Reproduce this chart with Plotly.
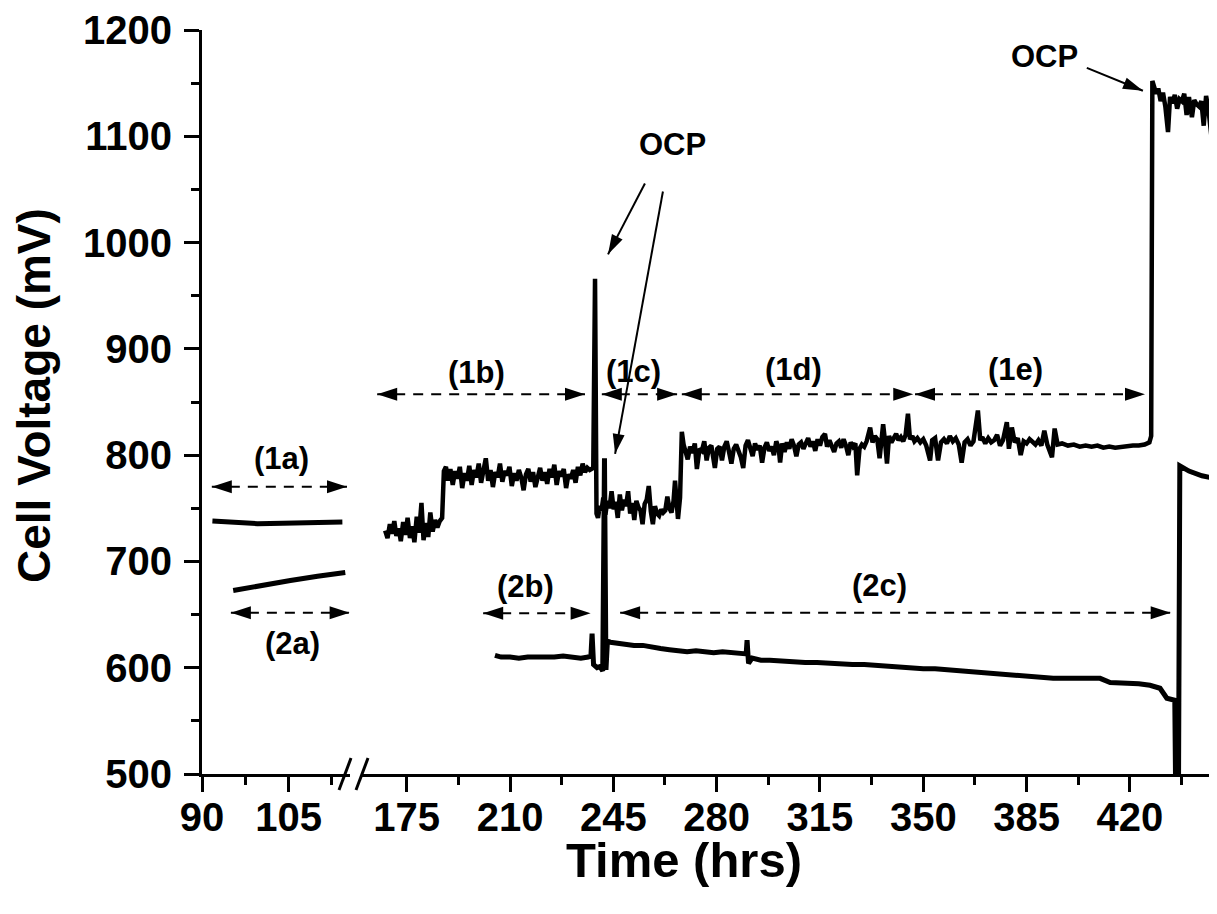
import math
import plotly.graph_objects as go

# ---------------- data ----------------
# broken time axis: left panel 90-115 h, right panel 160-450 h
s1_left_t = [91.8, 95.0, 99.6, 104.0, 108.0, 112.0, 114.3]
s1_left_v = [738, 737, 735.5, 736, 736.5, 737, 737]

s2_left_t = [95.4, 100.0, 105.3, 110.0, 114.8]
s2_left_v = [672.7, 677.5, 682, 686, 689.5]

s1_t = [167.7, 168.5, 169.3, 170.0, 170.8, 171.5, 172.3, 173.0, 173.8, 174.6, 175.3, 176.1,
        176.9, 177.6, 178.4, 179.2, 180.0, 180.7, 181.5, 182.3, 183.0, 183.8, 184.6, 185.4,
        186.2, 187.0, 187.6, 188.3,
        189.0, 189.8, 190.6, 191.4, 192.2, 193.0, 193.8, 194.6, 195.4, 196.2, 197.0, 197.8,
        198.6, 199.4, 200.2, 201.0, 201.8, 202.6, 203.4, 204.2, 205.0, 205.8, 206.6, 207.4,
        208.2, 209.0, 209.8, 210.6, 211.4, 212.2, 213.0, 213.8, 214.6, 215.4, 216.2, 217.0,
        217.8, 218.6, 219.4, 220.2, 221.0, 221.8, 222.6, 223.4, 224.2, 225.0, 225.8, 226.6,
        227.4, 228.2, 229.0, 229.8, 230.6, 231.4, 232.2, 233.0, 233.8, 234.6, 235.4, 236.2,
        237.0, 238.2, 238.8, 239.3,
        239.8, 240.4, 241.0, 241.6, 242.3, 243.0, 243.7, 244.4, 245.1, 245.8, 246.5, 247.2,
        247.9, 248.6, 249.3, 250.0, 250.7, 251.4, 252.1, 252.8, 253.5, 254.2, 254.9, 255.6,
        256.3, 257.0, 257.7, 258.4, 259.1, 259.8, 260.5, 261.2, 261.9, 262.6, 263.3, 264.0,
        264.7, 265.4, 265.9, 266.9, 267.6, 268.2, 268.8,
        269.4, 270.2, 271.0, 271.8, 272.6, 273.3, 274.2, 275.0, 275.8, 276.6, 277.4, 278.2,
        279.4, 280.2, 281.0, 281.8, 282.6, 283.4, 284.2, 285.0, 285.8, 286.6, 287.4, 288.2,
        289.0, 289.8, 290.6, 291.4, 292.2, 293.0, 293.8, 294.6, 295.4, 296.2, 297.0, 297.8,
        298.6, 299.4, 300.2, 301.0, 301.5, 302.2, 303.0, 303.8, 304.6, 305.4, 306.2, 307.0,
        307.8, 308.6, 309.4, 310.2, 311.0, 311.8, 312.6, 313.4, 314.2, 315.0, 315.8, 316.7,
        317.4, 318.2, 319.0, 319.8, 320.6, 321.4, 322.2, 323.0, 323.8, 324.6, 325.4, 326.2,
        327.0, 327.6, 328.4, 329.2, 330.0, 330.8, 332.0, 332.8, 333.6, 334.4, 335.2, 336.4,
        337.0, 337.7, 338.4, 339.2, 340.0, 340.8, 341.6, 342.4, 343.2, 344.0, 344.8, 345.5,
        346.3, 347.0,
        348.0, 349.0, 350.0, 351.0, 352.3, 353.0, 354.0, 355.0, 356.0, 357.0, 358.0, 359.0,
        360.0, 361.0, 362.0, 363.0, 364.0, 365.0, 366.0, 367.0, 368.5, 369.3, 370.0, 371.0,
        372.0, 373.0, 374.0, 375.0, 376.0, 377.0, 378.3, 379.0, 380.0, 381.0, 382.0, 383.0,
        384.0, 385.0, 386.0, 387.0, 388.0, 389.0, 390.0, 391.0, 392.0, 393.6, 394.5, 395.5,
        397.0, 399.0, 401.0, 403.0, 405.0, 407.0, 409.0, 411.0, 413.0, 415.0, 417.0, 419.0,
        421.0, 423.0, 425.0, 426.6, 427.2,
        427.6, 428.2, 428.9, 429.6, 430.4, 431.2, 432.0, 432.9, 433.6, 434.4, 435.2, 436.0,
        436.8, 437.6, 438.4, 439.2, 440.0, 441.0, 441.8, 442.6, 443.4, 444.2, 445.0, 445.8,
        446.6, 447.8, 448.5, 449.2]
s1_v = [729, 722, 735, 726, 738, 724, 731, 719, 737, 725, 741, 722,
        733, 718, 742, 727, 755, 720, 736, 723, 746, 728, 739, 732,
        738, 741, 785, 789,
        776, 787, 772, 785, 778, 789, 769, 783, 776, 790, 772, 786,
        779, 792, 774, 788, 797, 776, 786, 770, 784, 779, 792, 775,
        785, 781, 789, 771, 783, 776, 786, 779, 767, 782, 787, 775,
        784, 770, 781, 788, 776, 784, 773, 787, 779, 791, 772, 785,
        780, 787, 769, 782, 778, 786, 774, 789, 781, 792, 784, 788,
        786, 788, 966, 745,
        741, 752, 748, 760, 744, 757, 750, 766, 749, 756, 741, 763,
        748, 758, 752, 766, 745, 755, 739, 757, 751, 748, 735, 754,
        758, 771, 747, 735, 752, 745, 743, 749, 746, 748, 761, 750,
        746, 757, 776, 740, 760, 822, 810,
        805, 796, 808, 802, 811, 787, 806, 804, 813, 795, 807, 809,
        788, 806, 808, 795, 808, 813, 803, 792, 806, 810, 804, 798,
        788, 809, 814, 806, 799, 811, 805, 809, 793, 807, 812, 804,
        808, 800, 813, 807, 793, 811, 803, 812, 806, 815, 809, 799,
        810, 812, 806, 811, 816, 808, 813, 804, 815, 809, 817, 820,
        808, 814, 809, 803, 811, 813, 807, 815, 809, 800, 812, 808,
        811, 781, 806, 810, 808, 813, 826, 812, 818, 815, 797, 829,
        814, 792, 818, 812, 816, 820, 814, 817, 813, 819, 839, 815,
        818, 813,
        816, 812, 815, 809, 795, 814, 816, 795, 812, 815, 811, 818,
        813, 816, 810, 793, 812, 815, 809, 813, 842, 814, 817, 811,
        816, 812, 814, 819, 809, 814, 831, 806, 826, 812, 816, 800,
        813, 811, 815, 812, 810, 814, 809, 823, 810, 798, 825, 810,
        811, 809, 810, 808, 809, 808, 809, 807, 808, 807, 808, 808,
        809, 809, 810, 812, 818,
        1152, 1146, 1140, 1145, 1133, 1141, 1128, 1104, 1137, 1131, 1139, 1126,
        1135, 1133, 1140, 1120, 1137, 1118, 1134, 1130, 1128, 1133, 1110, 1138,
        1125, 1095, 1135, 1158]

s2_t = [204.9, 207.0, 210.0, 213.0, 216.0, 219.0, 222.0, 225.0, 228.0, 231.0, 234.0, 236.5,
        237.4, 237.8, 238.3, 239.5, 240.5, 241.4, 242.0, 242.5, 243.0, 244.0, 246.0, 249.0,
        252.0, 255.0, 258.0, 261.0, 264.0, 267.0, 270.0, 273.0, 276.0, 279.0, 282.0, 285.0,
        288.0, 290.0, 290.3, 290.8, 292.0, 295.0, 298.0, 302.0, 306.0, 310.0, 314.0, 318.0,
        322.0, 326.0, 330.0, 334.0, 338.0, 342.0, 346.0, 350.0, 354.0, 358.0, 362.0, 366.0,
        370.0, 374.0, 378.0, 382.0, 386.0, 390.0, 394.0, 398.0, 402.0, 406.0, 409.9, 413.3,
        417.0, 420.0, 423.0, 426.8, 430.2, 432.5, 435.2, 435.6, 436.4, 436.9, 440.0, 444.4,
        449.5]
s2_v = [611.7, 610, 610, 609, 610, 610, 609, 610, 611, 610, 609, 610,
        611, 632, 603, 600, 601, 597, 797, 598, 625, 624, 623, 622,
        621, 621, 619, 618, 617, 616, 615, 616, 615, 614, 615, 614,
        613, 613, 626, 604, 609, 607, 607, 606, 606, 605, 605, 604,
        604, 603, 603, 602, 602, 601, 600, 599, 599, 598, 597, 596,
        595, 594, 593, 592, 591, 591, 590, 590, 590, 589, 590, 586,
        586, 585, 585, 583.5, 580.7, 571.3, 569.4, 450, 450, 790, 785, 780.6,
        777.7]

# annotation labels and their (time, voltage) anchors
seg_labels = ["(1a)", "(2a)", "(1b)", "(1c)", "(1d)", "(1e)", "(2b)", "(2c)"]
seg_label_t = [103.8, 105.6, 198.7, 251.7, 305.9, 381.1, 215.4, 335.3]
seg_label_v = [796.5, 622.9, 877.5, 879.0, 881.0, 881.0, 676.4, 677.3]
seg_axis = ["x", "x", "x2", "x2", "x2", "x2", "x2", "x2"]
# double arrows: (start time, end time, voltage)
seg_start = [91.7, 95.0, 165.0, 241.1, 268.2, 347.2, 200.9, 247.3]
seg_end = [115.1, 115.55, 235.4, 266.6, 346.6, 425.1, 237.3, 433.8]
seg_v = [770.2, 651.7, 857.2, 857.2, 857.2, 857.2, 651.3, 651.7]

ocp_text_t = [264.9, 391.2]
ocp_text_v = [1092.1, 1174.7]
ocp_from_t = [255.7, 261.8, 405.4]
ocp_from_v = [1055.5, 1048.0, 1164.4]
ocp_to_t = [243.2, 245.6, 424.4]
ocp_to_v = [988.9, 801.2, 1142.8]

# ---------------- geometry ----------------
# the page places the figure 8 px in from the top-left corner (default body margin)
OFF = 8
W_FIG, H_FIG = 1217 - OFF, 914 - OFF
L_REF, T_REF = 202, 28          # plot-area corner in window pixels
L, R, T = L_REF - OFF, 0, T_REF - OFF
PH = 746
B = H_FIG - T - PH
PW = W_FIG - L - R
Y_RANGE = [500, 1200]
LEFT_END_PX = 148      # left panel width
RIGHT_START_PX = 160
SX_LEFT = 5.777
LEFT_RANGE = [90, 90 + LEFT_END_PX / SX_LEFT]
SX_RIGHT = (PW - RIGHT_START_PX) / 289.64
r0 = 175 - (406.7 - (L_REF + RIGHT_START_PX)) / SX_RIGHT
RIGHT_RANGE = [r0, r0 + (PW - RIGHT_START_PX) / SX_RIGHT]
SY = PH / (Y_RANGE[1] - Y_RANGE[0])

FONT = "Liberation Sans, Arial, sans-serif"


def head_path(tip_t, tip_v, dx, dy, sx, length=20, width=13):
    """triangle arrowhead; (dx, dy) direction in screen pixels (y down)"""
    n = math.hypot(dx, dy)
    ux, uy = dx / n, dy / n
    px, py = -uy, ux
    pts = [(0, 0),
           (-ux * length + px * width / 2, -uy * length + py * width / 2),
           (-ux * length - px * width / 2, -uy * length - py * width / 2)]
    coords = [(tip_t + ox / sx, tip_v - oy / SY) for ox, oy in pts]
    return "M" + " L".join(f"{a:.4f},{b:.4f}" for a, b in coords) + " Z"


def pxx(p):
    return (p - L_REF) / PW


def pxy(p):
    return (T_REF + PH - p) / PH


fig = go.Figure()
smooth = dict(color="black", width=5)
noisy = dict(color="black", width=4.5)
fig.add_trace(go.Scatter(x=s1_left_t, y=s1_left_v, mode="lines", line=smooth,
                         xaxis="x", yaxis="y", hoverinfo="skip"))
fig.add_trace(go.Scatter(x=s2_left_t, y=s2_left_v, mode="lines", line=smooth,
                         xaxis="x", yaxis="y", hoverinfo="skip"))
fig.add_trace(go.Scatter(x=s1_t, y=s1_v, mode="lines", line=noisy,
                         xaxis="x2", yaxis="y", hoverinfo="skip"))
fig.add_trace(go.Scatter(x=s2_t, y=s2_v, mode="lines", line=smooth,
                         xaxis="x2", yaxis="y", hoverinfo="skip"))

shapes = []
annotations = []
label_font = dict(family=FONT, size=31, color="black", weight="bold")

# segment double arrows
for lab, lt, lv, ax, t0, t1, v in zip(seg_labels, seg_label_t, seg_label_v, seg_axis,
                                      seg_start, seg_end, seg_v):
    sx = SX_LEFT if ax == "x" else SX_RIGHT
    shapes.append(dict(type="line", xref=ax, yref="y", x0=t0, x1=t1, y0=v, y1=v,
                       line=dict(color="black", width=2, dash="10px,8px")))
    shapes.append(dict(type="path", xref=ax, yref="y", path=head_path(t0, v, -1, 0, sx),
                       fillcolor="black", line=dict(width=0)))
    shapes.append(dict(type="path", xref=ax, yref="y", path=head_path(t1, v, 1, 0, sx),
                       fillcolor="black", line=dict(width=0)))
    annotations.append(dict(x=lt, y=lv, xref=ax, yref="y", text=lab, showarrow=False,
                            font=label_font))

# OCP labels and arrows
for tt, tv in zip(ocp_text_t, ocp_text_v):
    annotations.append(dict(x=tt, y=tv, xref="x2", yref="y", text="OCP", showarrow=False,
                            font=label_font))
for f_t, f_v, t_t, t_v in zip(ocp_from_t, ocp_from_v, ocp_to_t, ocp_to_v):
    dx = (t_t - f_t) * SX_RIGHT
    dy = -(t_v - f_v) * SY
    shapes.append(dict(type="line", xref="x2", yref="y", x0=f_t, y0=f_v, x1=t_t, y1=t_v,
                       line=dict(color="black", width=2)))
    shapes.append(dict(type="path", xref="x2", yref="y",
                       path=head_path(t_t, t_v, dx, dy, SX_RIGHT, length=20, width=12),
                       fillcolor="black", line=dict(width=0)))

# axis break marks
for xb in (339, 356):
    shapes.append(dict(type="line", xref="paper", yref="paper",
                       x0=pxx(xb), y0=pxy(790), x1=pxx(xb + 12), y1=pxy(758),
                       line=dict(color="black", width=3)))

# axis titles
annotations.append(dict(x=pxx(684), y=pxy(860), xref="paper", yref="paper",
                        text="Time (hrs)", showarrow=False, xanchor="center", yanchor="middle",
                        font=dict(family=FONT, size=49, color="black", weight="bold")))
annotations.append(dict(x=pxx(34), y=pxy(395), xref="paper", yref="paper",
                        text="Cell Voltage (mV)", showarrow=False, textangle=-90,
                        xanchor="center", yanchor="middle",
                        font=dict(family=FONT, size=46, color="black", weight="bold")))

tickfont = dict(family=FONT, size=40, color="black", weight="bold")
common_x = dict(showline=True, linewidth=3, linecolor="black", ticks="outside",
                ticklen=15, tickwidth=3, tickcolor="black", showgrid=False, zeroline=False,
                tickfont=tickfont, anchor="y", fixedrange=True, ticklabelstandoff=-9)

fig.update_layout(
    width=W_FIG, height=H_FIG,
    margin=dict(l=L, r=R, t=T, b=B, pad=0),
    paper_bgcolor="white", plot_bgcolor="white",
    showlegend=False,
    shapes=shapes, annotations=annotations,
    xaxis=dict(domain=[0, LEFT_END_PX / PW], range=LEFT_RANGE, tickmode="linear",
               tick0=90, dtick=15,
               minor=dict(tick0=90, dtick=7.5, ticks="outside", ticklen=8, tickwidth=3,
                          tickcolor="black"),
               **common_x),
    xaxis2=dict(domain=[RIGHT_START_PX / PW, 1], range=RIGHT_RANGE, tickmode="linear",
                tick0=175, dtick=35,
                minor=dict(tick0=175, dtick=17.5, ticks="outside", ticklen=8, tickwidth=3,
                           tickcolor="black"),
                **common_x),
    yaxis=dict(range=Y_RANGE, tickmode="linear", tick0=500, dtick=100, anchor="x",
               showline=True, linewidth=3, linecolor="black", ticks="outside",
               ticklen=15, tickwidth=3, tickcolor="black", showgrid=False, zeroline=False,
               tickfont=tickfont, fixedrange=True, ticklabeloverflow="allow",
               ticklabelstandoff=4,
               minor=dict(dtick=50, ticks="outside", ticklen=8, tickwidth=3,
                          tickcolor="black")),
)

fig.write_html("out.html")
